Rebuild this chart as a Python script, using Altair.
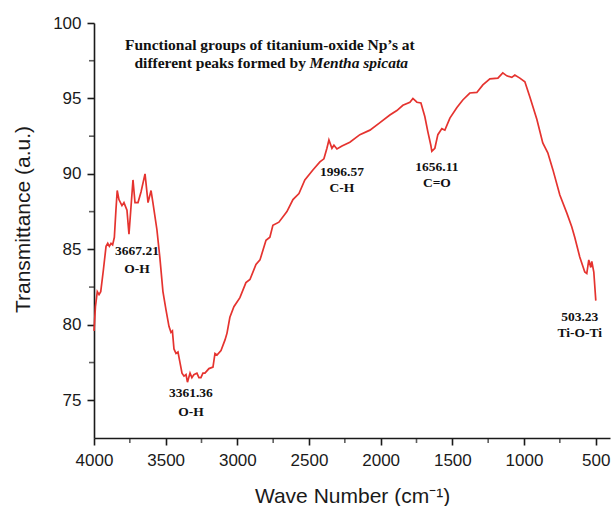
import altair as alt
import pandas as pd

wavenumber = [4000, 3990, 3977, 3965, 3953, 3935, 3916, 3904, 3893, 3881, 3870, 3858, 3847, 3838,
              3826, 3805, 3791, 3770, 3756, 3728, 3714, 3693, 3672, 3644, 3623, 3602, 3589, 3561,
              3540, 3519, 3498, 3477, 3463, 3453, 3442, 3428, 3414, 3400, 3386, 3372, 3358, 3348,
              3330, 3317, 3303, 3282, 3268, 3254, 3240, 3226, 3198, 3170, 3156, 3142, 3114, 3086,
              3072, 3052, 3024, 2982, 2940, 2912, 2870, 2842, 2800, 2773, 2752, 2710, 2654, 2612,
              2570, 2529, 2473, 2424, 2396, 2375, 2361, 2340, 2326, 2305, 2270, 2215, 2145, 2075,
              2005, 1936, 1887, 1845, 1796, 1775, 1747, 1719, 1692, 1671, 1650, 1643, 1622, 1601,
              1573, 1552, 1517, 1468, 1427, 1378, 1329, 1287, 1238, 1182, 1148, 1120, 1085, 1064,
              1029, 994, 959, 910, 869, 834, 799, 750, 701, 667, 646, 611, 576, 562, 548, 534, 527,
              513, 499]
transmittance = [79.6, 81.2, 82.2, 82.0, 82.2, 83.6, 85.2, 85.4, 85.2, 85.4, 85.3, 85.8, 87.6, 88.9,
                 88.3, 87.9, 88.1, 87.6, 86.0, 89.6, 88.1, 88.1, 88.8, 90.0, 88.1, 88.9, 88.1, 86.3,
                 84.4, 82.2, 81.0, 79.9, 79.5, 79.6, 78.4, 78.1, 78.2, 77.5, 76.8, 76.6, 76.7, 76.2,
                 76.8, 76.5, 76.7, 76.8, 76.5, 76.5, 76.8, 76.8, 77.1, 77.2, 78.1, 78.0, 78.3, 79.0,
                 79.45, 80.5, 81.2, 81.8, 82.8, 83.0, 84.0, 84.3, 85.6, 85.8, 86.6, 86.8, 87.5, 88.3,
                 88.7, 89.6, 90.26, 90.8, 91.0, 91.7, 92.25, 91.7, 91.9, 91.65, 91.85, 92.1, 92.6, 92.9,
                 93.4, 93.9, 94.2, 94.55, 94.75, 95.0, 94.75, 94.7, 93.8, 92.8, 91.9, 91.5, 91.7, 92.6,
                 93.0, 92.9, 93.7, 94.4, 94.9, 95.36, 95.4, 95.9, 96.3, 96.35, 96.7, 96.5, 96.4, 96.55,
                 96.35, 96.1, 95.1, 93.6, 92.05, 91.4, 90.3, 88.6, 87.4, 86.5, 85.8, 84.5, 83.5, 83.4,
                 84.3, 83.8, 84.2, 83.5, 81.6]

x_major = [4000, 3500, 3000, 2500, 2000, 1500, 1000, 500]
x_minor = [3750, 3250, 2750, 2250, 1750, 1250, 750]
y_major = [75, 80, 85, 90, 95, 100]
y_minor = [77.5, 82.5, 87.5, 92.5, 97.5]

ann_text = ["3667.21", "O-H", "3361.36", "O-H", "1996.57", "C-H", "1656.11", "C=O", "503.23", "Ti-O-Ti"]
ann_wn = [3700, 3700, 3324, 3324, 2270, 2270, 1608, 1608, 611, 611]
ann_t = [84.9, 83.7, 75.48, 74.22, 90.13, 89.07, 90.46, 89.40, 80.52, 79.46]

title_line1 = "Functional groups of titanium-oxide Np\u2019s at"
title_line2a = "different peaks formed by"
title_line2b = "Mentha spicata"
title_wn = [2773, 2521, 2497]
title_t = [98.54, 97.35, 97.35]

X_DOMAIN = [4000, 400]
Y_DOMAIN = [72.5, 100]

df = pd.DataFrame({"wn": wavenumber, "T": transmittance})
ann = pd.DataFrame({"wn": ann_wn, "T": ann_t, "text": ann_text})
# minor ticks sit on the axis lines (bottom of y domain / start of x domain)
xmin_df = pd.DataFrame({"wn": x_minor, "T": [Y_DOMAIN[0]] * len(x_minor)})
ymin_df = pd.DataFrame({"wn": [X_DOMAIN[0]] * len(y_minor), "T": y_minor})

xscale = alt.Scale(domain=X_DOMAIN, nice=False, zero=False)
yscale = alt.Scale(domain=Y_DOMAIN, nice=False, zero=False)

FONT = "Liberation Sans"
SERIF = "Liberation Serif"
AX = "#1a1a1a"

x_axis = alt.Axis(values=x_major, format="d", orient="bottom", grid=False, labelFlush=False,
                  labelFont=FONT, labelFontSize=17, labelColor=AX, labelPadding=7,
                  tickSize=7, tickWidth=1.6, tickColor=AX, domainWidth=1.6, domainColor=AX,
                  title="Wave Number (cm\u207b\u00b9)", titleFont=FONT, titleFontSize=21,
                  titleFontWeight="normal", titleColor=AX, titleX=258, titleY=64,
                  titleBaseline="alphabetic", titleAlign="center", titleAnchor="middle")
y_axis = alt.Axis(values=y_major, format="d", orient="left", grid=False, labelFlush=False,
                  labelFont=FONT, labelFontSize=17, labelColor=AX, labelPadding=6,
                  tickSize=7, tickWidth=1.6, tickColor=AX, domainWidth=1.6, domainColor=AX,
                  title="Transmittance (a.u.)", titleFont=FONT, titleFontSize=21,
                  titleFontWeight="normal", titleColor=AX, titleX=-65, titleY=196,
                  titleAngle=270, titleBaseline="alphabetic", titleAlign="center",
                  titleAnchor="middle")

X = lambda f="wn:Q": alt.X(f, scale=xscale, axis=x_axis)
Y = lambda f="T:Q": alt.Y(f, scale=yscale, axis=y_axis)

line = alt.Chart(df).mark_line(color="#e5332f", strokeWidth=1.7).encode(x=X(), y=Y())

xminor = alt.Chart(xmin_df).mark_tick(color=AX, thickness=1.6, size=5, orient="vertical",
                                      yOffset=2.5, clip=False).encode(x=X(), y=Y())
yminor = alt.Chart(ymin_df).mark_tick(color=AX, thickness=1.6, size=5, orient="horizontal",
                                      xOffset=-2.5, clip=False).encode(x=X(), y=Y())

labels = alt.Chart(ann).mark_text(font=SERIF, fontSize=13.5, fontWeight="bold",
                                  color="#111", baseline="middle", align="center").encode(
    x=X(), y=Y(), text="text:N",
)

TS = 15.5
t1 = alt.Chart(pd.DataFrame({"wn": [title_wn[0]], "T": [title_t[0]], "text": [title_line1]})).mark_text(
    font=SERIF, fontSize=TS, fontWeight="bold", color="#111", baseline="middle", align="center").encode(
    x=X(), y=Y(), text="text:N")
t2 = alt.Chart(pd.DataFrame({"wn": [title_wn[1]], "T": [title_t[1]], "text": [title_line2a]})).mark_text(
    font=SERIF, fontSize=TS, fontWeight="bold", color="#111", baseline="middle", align="right").encode(
    x=X(), y=Y(), text="text:N")
t3 = alt.Chart(pd.DataFrame({"wn": [title_wn[2]], "T": [title_t[2]], "text": [title_line2b]})).mark_text(
    font=SERIF, fontSize=TS, fontWeight="bold", fontStyle="italic", color="#111", baseline="middle",
    align="left").encode(
    x=X(), y=Y(), text="text:N")

chart = alt.layer(line, labels, t1, t2, t3, xminor, yminor).properties(
    width=516, height=415,
    autosize=alt.AutoSizeParams(type="none"),
    padding={"left": 94, "top": 23, "right": 3, "bottom": 68},
    background="white",
).configure_view(stroke=None)

chart.save("out.html", embed_options={"renderer": "svg", "actions": False})
